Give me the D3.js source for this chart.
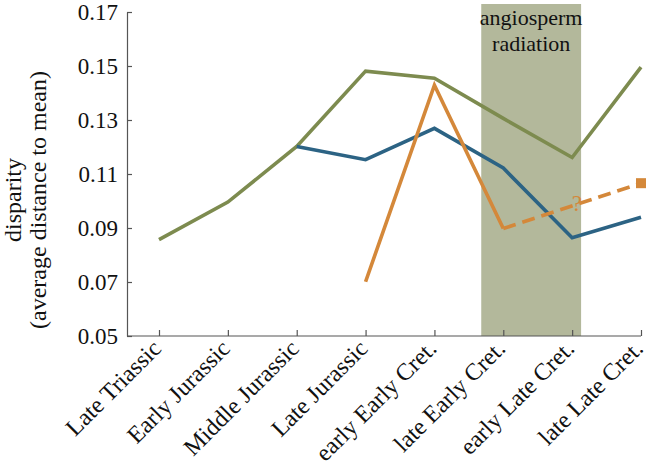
<!DOCTYPE html>
<meta charset="utf-8">
<style>
body { margin: 0; background: #fff; }
text { font-family: "Liberation Serif", "DejaVu Serif", serif; fill: #111; }
</style>
<body>
<script src="https://cdnjs.cloudflare.com/ajax/libs/d3/7.8.5/d3.min.js"></script>
<script>

var width = 650,
    height = 468;

var periods = ["Late Triassic", "Early Jurassic", "Middle Jurassic", "Late Jurassic",
    "early Early Cret.", "late Early Cret.", "early Late Cret.", "late Late Cret."];

// index into periods, value
var greenSeries = [[0, 0.0857], [1, 0.0996], [2, 0.1202], [3, 0.1481], [4, 0.1455], [5, 0.1306], [6, 0.1161], [7, 0.1496]];
var blueSeries = [[2, 0.1202], [3, 0.1153], [4, 0.1269], [5, 0.1122], [6, 0.0864], [7, 0.0940]];
var orangeSeries = [[3, 0.0701], [4, 0.1429], [5, 0.0898]];
var orangeDashed = [[5, 0.0898], [7, 0.1066]];

var yTicks = [0.05, 0.07, 0.09, 0.11, 0.13, 0.15, 0.17];
var band = [4.68, 6.13];
var bandLabel = ["angiosperm", "radiation"];

var margin = {top: 12, right: 9, bottom: 132, left: 127};

var svg = d3.select("body").append("svg")
    .attr("width", width)
    .attr("height", height);

var x = d3.scaleLinear().domain([0, 7]).range([159, width - margin.right]);
var y = d3.scaleLinear().domain([0.05, 0.17]).range([height - margin.bottom, margin.top]);

// shaded band
svg.append("rect")
    .attr("x", x(band[0]))
    .attr("y", 4)
    .attr("width", x(band[1]) - x(band[0]))
    .attr("height", y(0.05) - 4)
    .attr("fill", "#b3b89b");

svg.selectAll(".bandlabel")
    .data(bandLabel)
  .enter().append("text")
    .attr("x", (x(band[0]) + x(band[1])) / 2)
    .attr("y", function(d, i) { return 25 + i * 26; })
    .attr("text-anchor", "middle")
    .style("font-size", "22px")
    .text(function(d) { return d; });

// axes
var yAxis = d3.axisLeft(y).tickValues(yTicks).tickFormat(d3.format(".2f")).tickSizeInner(-5).tickSizeOuter(0).tickPadding(9);
var xAxis = d3.axisBottom(x).tickValues(d3.range(periods.length)).tickFormat(function(i) { return periods[i]; }).tickSizeInner(-6).tickSizeOuter(0);

var gy = svg.append("g")
    .attr("transform", "translate(" + margin.left + ",0)")
    .call(yAxis);
gy.select(".domain").attr("stroke", "#555").attr("stroke-width", 1.2);
gy.selectAll(".tick line").attr("stroke", "#555").attr("stroke-width", 1.2);
gy.selectAll("text").style("font-size", "23px").attr("fill", "#111");

var gx = svg.append("g")
    .attr("transform", "translate(0," + y(0.05) + ")")
    .call(xAxis);
gx.select(".domain").attr("d", "M" + margin.left + ",0H" + x(7)).attr("stroke", "#555").attr("stroke-width", 1.2);
gx.selectAll(".tick line").attr("stroke", "#555").attr("stroke-width", 1.2);
gx.selectAll("text")
    .style("font-size", "24px")
    .attr("fill", "#111")
    .attr("text-anchor", "end")
    .attr("y", 0)
    .attr("dy", 0)
    .attr("transform", "translate(3,14) rotate(-45)");

// y title
svg.append("text")
    .attr("transform", "translate(21,200) rotate(-90)")
    .attr("text-anchor", "middle")
    .style("font-size", "24px")
    .text("disparity");
svg.append("text")
    .attr("transform", "translate(46,200) rotate(-90)")
    .attr("text-anchor", "middle")
    .style("font-size", "24px")
    .text("(average distance to mean)");

var line = d3.line()
    .x(function(d) { return x(d[0]); })
    .y(function(d) { return y(d[1]); });

function drawLine(data, color, dash) {
    svg.append("path")
        .datum(data)
        .attr("d", line)
        .attr("fill", "none")
        .attr("stroke", color)
        .attr("stroke-width", 3.6)
        .attr("stroke-linejoin", "miter")
        .attr("stroke-dasharray", dash || null);
}

drawLine(greenSeries, "#7d8b4f");
drawLine(blueSeries, "#2c6384");
drawLine(orangeSeries, "#d4883a");
drawLine(orangeDashed, "#d4883a", "13,7");

var last = orangeDashed[orangeDashed.length - 1];
svg.append("rect")
    .attr("x", x(last[0]) - 5)
    .attr("y", y(last[1]) - 5)
    .attr("width", 10)
    .attr("height", 10)
    .attr("fill", "#d4883a");

svg.append("text")
    .attr("x", x(6.07))
    .attr("y", y(0.0993) + 8)
    .attr("text-anchor", "middle")
    .style("font-size", "23px")
    .style("fill", "#d4883a")
    .text("?");

</script>
